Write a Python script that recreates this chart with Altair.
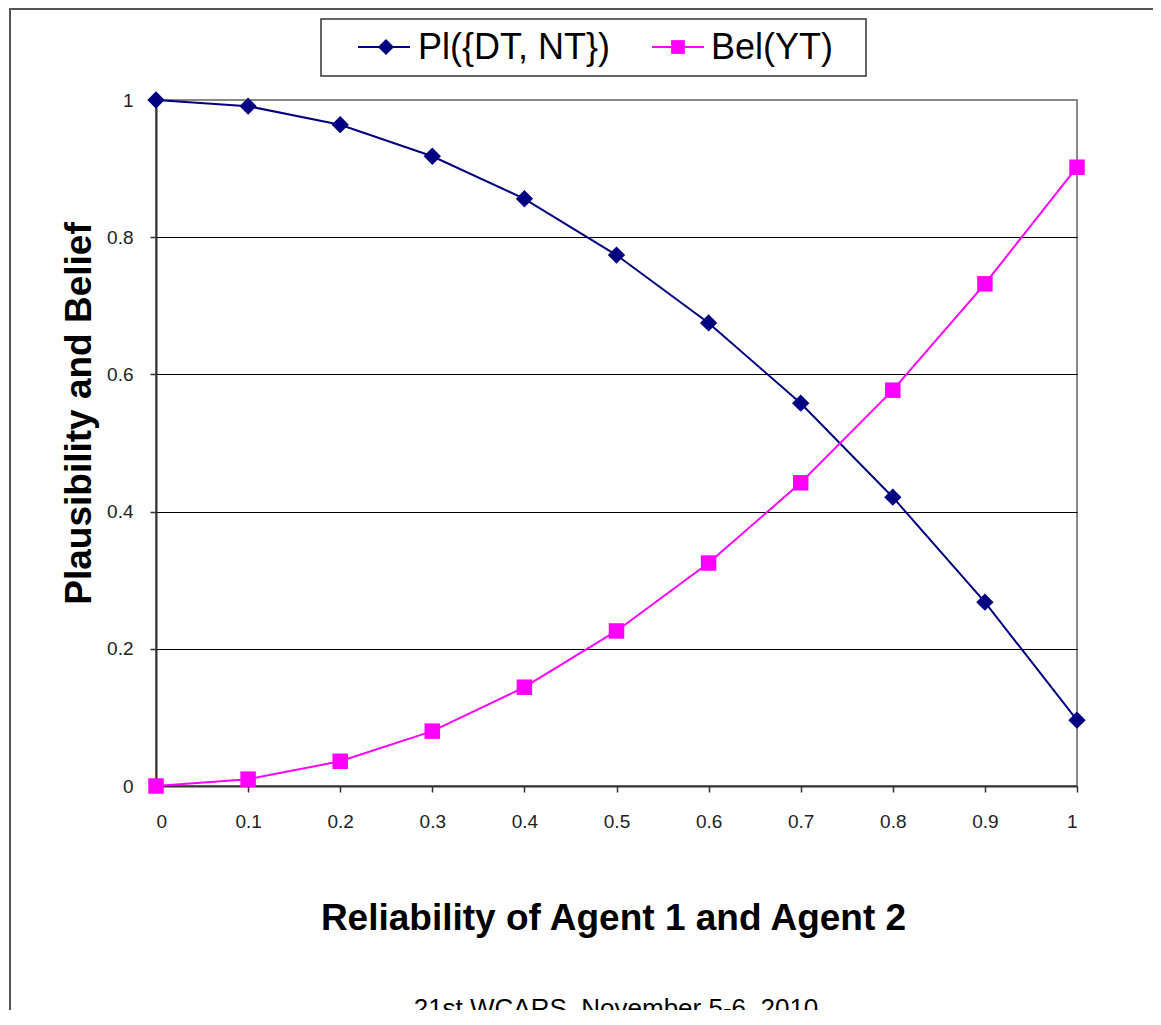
import altair as alt
import pandas as pd

# ---- data ----
reliability = [0, 0.1, 0.2, 0.3, 0.4, 0.5, 0.6, 0.7, 0.8, 0.9, 1.0]
pl_dt_nt = [1.0, 0.991, 0.964, 0.918, 0.856, 0.774, 0.675, 0.558, 0.421, 0.268, 0.096]
bel_yt = [0.0, 0.010, 0.036, 0.080, 0.144, 0.226, 0.325, 0.442, 0.577, 0.732, 0.902]
series_names = ["Pl({DT, NT})", "Bel(YT)"]
series_colors = ["#000080", "#FF00FF"]
series_shapes = ["diamond", "square"]
series_sizes = [300, 240]
x_ticks = [0, 0.1, 0.2, 0.3, 0.4, 0.5, 0.6, 0.7, 0.8, 0.9, 1]
y_ticks = [0, 0.2, 0.4, 0.6, 0.8, 1]
x_title = "Reliability of Agent 1 and Agent 2"
y_title = "Plausibility and Belief"
footer = "21st WCARS, November 5-6, 2010"

FONT = "Liberation Sans"

rows = []
for name, vals in zip(series_names, [pl_dt_nt, bel_yt]):
    for xv, yv in zip(reliability, vals):
        rows.append({"x": xv, "y": yv, "series": name})
df = pd.DataFrame(rows)

xs = alt.Scale(domain=[0, 1], nice=False)
ys = alt.Scale(domain=[0, 1], nice=False)
color = alt.Color("series:N", scale=alt.Scale(domain=series_names, range=series_colors), legend=None)

base = alt.Chart(df)

lines = base.mark_line(strokeWidth=2).encode(
    x=alt.X(
        "x:Q", scale=xs, title=x_title,
        axis=alt.Axis(values=x_ticks, format="~g", grid=False, tickSize=6,
                      labelPadding=20, titleX=457, titleY=143,
                      titleBaseline="alphabetic", titleAlign="center"),
    ),
    y=alt.Y(
        "y:Q", scale=ys, title=y_title,
        axis=alt.Axis(values=y_ticks, format="~g", grid=True, tickSize=6,
                      labelPadding=17, titleX=-66, titleY=313, titleAngle=-90,
                      titleBaseline="alphabetic", titleAlign="center",
                      gridColor={"condition": {"test": "datum.value === 1", "value": "#888888"},
                                 "value": "#000000"}),
    ),
    color=color,
    detail="series:N",
)

points = base.mark_point(filled=True, opacity=1).encode(
    x=alt.X("x:Q", scale=xs),
    y=alt.Y("y:Q", scale=ys),
    color=color,
    shape=alt.Shape("series:N", scale=alt.Scale(domain=series_names, range=series_shapes), legend=None),
    size=alt.Size("series:N", scale=alt.Scale(domain=series_names, range=series_sizes), legend=None),
)

one = alt.Chart(pd.DataFrame({"k": [0]}))

frame = one.mark_rect(fillOpacity=0, stroke="#555555", strokeWidth=2).encode(
    x=alt.value(-146), x2=alt.value(1100), y=alt.value(-91), y2=alt.value(1000)
)

leg_box = one.mark_rect(fill="white", stroke="#333333", strokeWidth=1.5).encode(
    x=alt.value(165), x2=alt.value(710), y=alt.value(-81), y2=alt.value(-24)
)
leg_rule1 = one.mark_rule(color=series_colors[0], strokeWidth=2).encode(
    x=alt.value(202), x2=alt.value(254), y=alt.value(-53)
)
leg_pt1 = one.mark_point(shape=series_shapes[0], filled=True, color=series_colors[0],
                         size=260, opacity=1).encode(x=alt.value(230), y=alt.value(-53))
leg_txt1 = one.mark_text(text=series_names[0], align="left", baseline="alphabetic",
                         font=FONT, fontSize=36, color="black").encode(
    x=alt.value(262), y=alt.value(-41))
leg_rule2 = one.mark_rule(color=series_colors[1], strokeWidth=2).encode(
    x=alt.value(496), x2=alt.value(548), y=alt.value(-53)
)
leg_pt2 = one.mark_point(shape=series_shapes[1], filled=True, color=series_colors[1],
                         size=190, opacity=1).encode(x=alt.value(522), y=alt.value(-53))
leg_txt2 = one.mark_text(text=series_names[1], align="left", baseline="alphabetic",
                         font=FONT, fontSize=36, color="black").encode(
    x=alt.value(555), y=alt.value(-41))

foot = one.mark_text(text=footer, align="center", baseline="alphabetic",
                     font=FONT, fontSize=26, color="black").encode(
    x=alt.value(460), y=alt.value(917))

chart = alt.layer(
    frame, lines, points, leg_box, leg_rule1, leg_pt1, leg_txt1,
    leg_rule2, leg_pt2, leg_txt2, foot
).properties(
    width=921, height=686,
    autosize=alt.AutoSizeParams(type="none"),
    padding={"left": 148, "top": 92, "right": 76, "bottom": 224},
    background="white",
).configure_view(
    stroke="#888888", strokeWidth=2
).configure_axis(
    labelFont=FONT, labelFontSize=19, labelColor="#222222",
    titleFont=FONT, titleFontSize=37, titleFontWeight="bold", titleColor="black",
    domainColor="#333333", domainWidth=2, tickColor="#333333", tickWidth=1.5,
    gridWidth=1,
)

chart.save("out.html", embed_options={"renderer": "svg", "actions": False})
